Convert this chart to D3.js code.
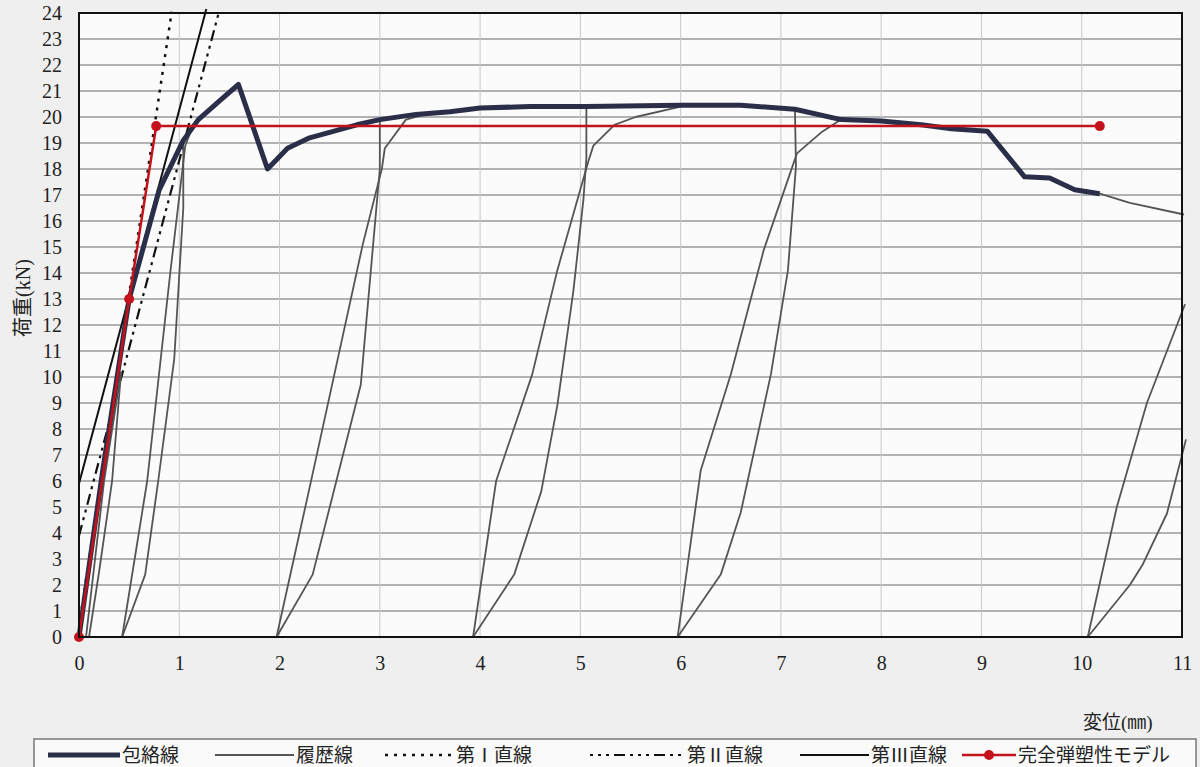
<!DOCTYPE html>
<html>
<head>
<meta charset="utf-8">
<script src="https://d3js.org/d3.v7.min.js"></script>
<style>
  body { margin: 0; background: #efefef; }
  svg { display: block; }
  .tick text { font-family: "Liberation Serif", "DejaVu Serif", serif; font-size: 20px; fill: #222; }
  .lbl { font-family: "Liberation Serif", "Noto Sans CJK JP", serif; fill: #222; }
</style>
</head>
<body>
<svg width="1200" height="767"></svg>
<script>
// tick labels
const xTicks = [0,1,2,3,4,5,6,7,8,9,10,11];
const yTicks = d3.range(0, 25);

// 包絡線 (envelope)
const envelope = [[0,0],[0.24,6.5],[0.5,13.0],[0.8,17.2],[1.04,19.1],[1.19,19.9],[1.41,20.65],[1.59,21.25],
  [1.88,18.0],[2.08,18.8],[2.3,19.2],[2.77,19.7],[3.0,19.9],[3.36,20.1],[3.7,20.2],[4.0,20.35],[4.5,20.4],
  [5.06,20.4],[6.0,20.45],[6.6,20.45],[7.14,20.3],[7.6,19.9],[8.0,19.85],[8.4,19.7],[8.7,19.55],[9.06,19.45],
  [9.43,17.7],[9.68,17.65],[9.93,17.2],[10.18,17.05]];

// 履歴線 (hysteresis branches)
const loop0Up = [[0.07,0],[0.25,6.0],[0.42,10.2]];
const loop0Down = [[0.42,10.2],[0.33,6.0],[0.2,2.5],[0.1,0]];
const loop1Up = [[0.43,0],[0.68,6.0],[0.91,14.0],[1.06,18.9],[1.12,19.5],[1.19,19.9]];
const loop1Down = [[1.04,19.1],[1.04,16.5],[0.95,10.7],[0.79,6.0],[0.66,2.4],[0.43,0]];
const loop2Up = [[1.97,0],[2.32,6.1],[2.83,15.1],[3.02,18.0],[3.05,18.8],[3.26,19.9],[3.5,20.15]];
const loop2Down = [[3.0,19.9],[3.0,18.0],[2.97,16.7],[2.81,9.7],[2.33,2.4],[1.97,0]];
const loop3Up = [[3.93,0],[4.16,6.0],[4.52,10.1],[4.77,14.1],[5.08,18.3],[5.13,18.9],[5.34,19.7],[5.55,20.0],[6.0,20.4]];
const loop3Down = [[5.06,20.35],[5.06,18.4],[5.03,16.8],[4.93,13.3],[4.77,8.9],[4.61,5.6],[4.34,2.4],[3.93,0]];
const loop4Up = [[5.97,0],[6.2,6.4],[6.5,10.1],[6.83,14.9],[7.16,18.6],[7.4,19.4],[7.6,19.9]];
const loop4Down = [[7.14,20.3],[7.15,18.1],[7.07,14.1],[6.9,10.1],[6.6,4.8],[6.4,2.4],[5.97,0]];
const tail = [[10.18,17.05],[10.48,16.7],[11.02,16.25]];
const loop5Up = [[10.06,0],[10.35,5.0],[10.65,9.0],[11.03,12.8]];
const loop5Down = [[10.06,0],[10.48,2.0],[10.61,2.8],[10.85,4.75],[11.04,7.6]];

// 第I/II/III直線
const line1 = [[0,0.4],[0.925,24.05]];
const line2 = [[0,3.9],[1.40,24.1]];
const line3 = [[0,5.9],[1.27,24.15]];

// 完全弾塑性モデル
const model = [[0,0],[0.5,13.0],[0.77,19.65],[10.18,19.65]];

const svg = d3.select('svg');
const x = d3.scaleLinear().domain([0, 11]).range([79, 1182]);
const y = d3.scaleLinear().domain([0, 24]).range([637, 13]);
const line = d3.line().x(d => x(d[0])).y(d => y(d[1]));

svg.append('rect').attr('x', x(0)).attr('y', y(24))
  .attr('width', x(11) - x(0)).attr('height', y(0) - y(24))
  .style('fill', '#fbfbfb');

// grid
svg.append('g').selectAll('line').data(yTicks.slice(1, -1)).enter().append('line')
  .attr('x1', x(0)).attr('x2', x(11)).attr('y1', d => y(d)).attr('y2', d => y(d))
  .style('stroke', '#9a9a9a').style('stroke-width', 1.4);
svg.append('g').selectAll('line').data(xTicks.slice(1, -1)).enter().append('line')
  .attr('y1', y(0)).attr('y2', y(24)).attr('x1', d => x(d)).attr('x2', d => x(d))
  .style('stroke', '#c8c8c8').style('stroke-width', 1);

// axes
const xAxis = svg.append('g').attr('transform', 'translate(0,' + y(0) + ')')
  .call(d3.axisBottom(x).tickValues(xTicks).tickSize(0).tickPadding(19).tickFormat(d3.format('d')));
const yAxis = svg.append('g').attr('transform', 'translate(' + x(0) + ',0)')
  .call(d3.axisLeft(y).tickValues(yTicks).tickSize(0).tickPadding(17).tickFormat(d3.format('d')));
xAxis.select('.domain').remove();
yAxis.select('.domain').remove();

// straight lines
svg.append('path').datum(line1).attr('d', line)
  .style('fill', 'none').style('stroke', '#111').style('stroke-width', 2.5).style('stroke-dasharray', '3,6');
svg.append('path').datum(line2).attr('d', line)
  .style('fill', 'none').style('stroke', '#111').style('stroke-width', 2.2).style('stroke-dasharray', '11,5,3,5,3,5');
svg.append('path').datum(line3).attr('d', line)
  .style('fill', 'none').style('stroke', '#111').style('stroke-width', 2);

// hysteresis
const hyst = [loop0Up, loop0Down, loop1Up, loop1Down, loop2Up, loop2Down, loop3Up, loop3Down,
  loop4Up, loop4Down, tail, loop5Up, loop5Down];
svg.append('g').selectAll('path').data(hyst).enter().append('path')
  .attr('d', line).style('fill', 'none').style('stroke', '#555').style('stroke-width', 1.8)
  .style('stroke-linejoin', 'round');

// envelope
svg.append('path').datum(envelope).attr('d', line)
  .style('fill', 'none').style('stroke', '#2b2e48').style('stroke-width', 5)
  .style('stroke-linejoin', 'round');

// model
svg.append('path').datum(model).attr('d', line)
  .style('fill', 'none').style('stroke', '#c3121c').style('stroke-width', 2.5);
svg.append('g').selectAll('circle').data(model).enter().append('circle')
  .attr('cx', d => x(d[0])).attr('cy', d => y(d[1])).attr('r', 5).style('fill', '#c3121c');

// frame
svg.append('rect').attr('x', x(0)).attr('y', y(24))
  .attr('width', x(11) - x(0)).attr('height', y(0) - y(24))
  .style('fill', 'none').style('stroke', '#111').style('stroke-width', 2);

// axis titles
svg.append('text').attr('class', 'lbl').attr('transform', 'translate(23,298) rotate(-90)')
  .attr('text-anchor', 'middle').attr('dy', '0.35em').style('font-size', '20px').text('荷重(kN)');
svg.append('text').attr('class', 'lbl').attr('x', 1083).attr('y', 722)
  .attr('dy', '0.35em').style('font-size', '19px').text('変位(㎜)');

// legend
svg.append('rect').attr('x', 34).attr('y', 739).attr('width', 1162).attr('height', 60)
  .style('fill', '#fafafa').style('stroke', '#777').style('stroke-width', 1.5);
const legend = [
  {name: '包絡線', x1: 48, x2: 120, color: '#2b2e48', w: 5, dash: null},
  {name: '履歴線', x1: 215, x2: 294, color: '#555', w: 1.8, dash: null},
  {name: '第Ⅰ直線', x1: 385, x2: 454, color: '#111', w: 2.5, dash: '3,6'},
  {name: '第Ⅱ直線', x1: 590, x2: 685, color: '#111', w: 2.2, dash: '3,5,3,5,3,5,11,5'},
  {name: '第Ⅲ直線', x1: 800, x2: 869, color: '#111', w: 2, dash: null},
  {name: '完全弾塑性モデル', x1: 962, x2: 1016, color: '#c3121c', w: 2.5, dash: null, dot: true}
];
const lg = svg.append('g').selectAll('g').data(legend).enter().append('g');
lg.append('line').attr('x1', d => d.x1).attr('x2', d => d.x2).attr('y1', 755).attr('y2', 755)
  .style('stroke', d => d.color).style('stroke-width', d => d.w)
  .style('stroke-dasharray', d => d.dash);
lg.filter(d => d.dot).append('circle').attr('cx', d => (d.x1 + d.x2) / 2).attr('cy', 755).attr('r', 5)
  .style('fill', d => d.color);
lg.append('text').attr('class', 'lbl').attr('x', d => d.x2 + 2).attr('y', 755).attr('dy', '0.35em')
  .style('font-size', '19px').text(d => d.name);
</script>
</body>
</html>
